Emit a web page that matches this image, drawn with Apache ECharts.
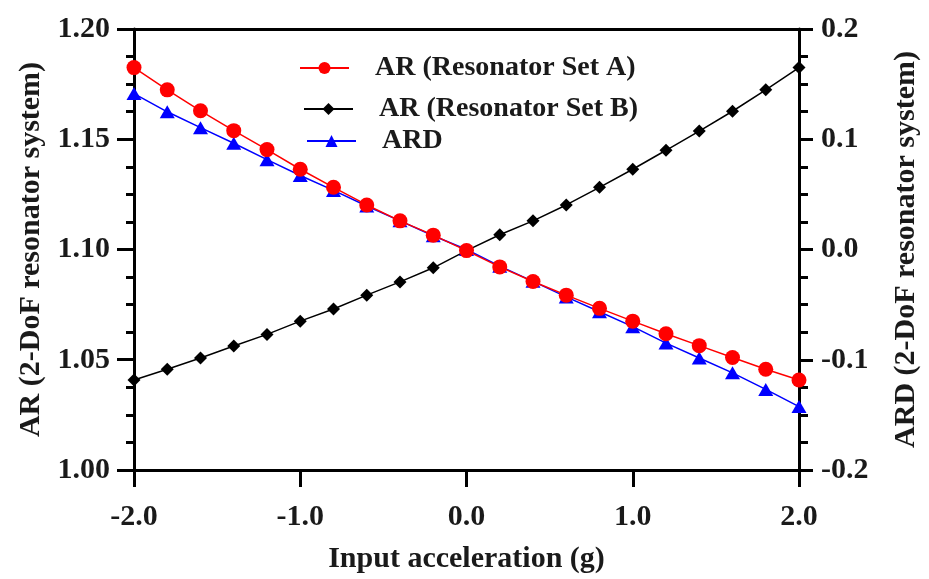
<!DOCTYPE html>
<html>
<head>
<meta charset="utf-8">
<script src="https://cdn.jsdelivr.net/npm/echarts@6/dist/echarts.min.js"></script>
<style>
html,body{margin:0;padding:0;background:#fff;}
#chart{width:929px;height:579px;}
</style>
</head>
<body>
<div id="chart"></div>
<script>
const xValues = [-2.0,-1.8,-1.6,-1.4,-1.2,-1.0,-0.8,-0.6,-0.4,-0.2,0.0,0.2,0.4,0.6,0.8,1.0,1.2,1.4,1.6,1.8,2.0];
const arSetA = [1.1825,1.1724,1.1629,1.1539,1.1453,1.1364,1.1282,1.1202,1.1130,1.1065,1.0995,1.0921,1.0855,1.0793,1.0733,1.0675,1.0618,1.0564,1.0510,1.0457,1.0408];
const arSetB = [1.0408,1.0457,1.0508,1.0562,1.0615,1.0675,1.0730,1.0793,1.0853,1.0917,1.0995,1.1067,1.1130,1.1202,1.1282,1.1364,1.1450,1.1537,1.1627,1.1724,1.1825];
const ard    = [0.1414,0.1249,0.1105,0.0964,0.0815,0.0671,0.0536,0.0395,0.0260,0.0125,0.0,-0.0151,-0.0289,-0.0430,-0.0565,-0.0700,-0.0849,-0.0984,-0.1119,-0.1269,-0.1425];
const leftTicks = ['1.00','1.05','1.10','1.15','1.20'];
const rightTicks = ['-0.2','-0.1','0.0','0.1','0.2'];
const xTicks = ['-2.0','-1.0','0.0','1.0','2.0'];

const FONT = 'Liberation Serif';
const TXT = '#1a1a1a';
const pairs = arr => xValues.map((x, i) => [x, arr[i]]);

const chart = echarts.init(document.getElementById('chart'));
const mkLine = () => ({show: true, onZero: false, lineStyle: {color: '#000', width: 3}});
const noLine = () => ({show: false, onZero: false});
const mkTick = len => ({show: true, length: len, lineStyle: {color: '#000', width: 3}});
const mkMinor = len => ({show: true, splitNumber: 4, length: len, lineStyle: {color: '#000', width: 3}});
const lab = () => ({fontFamily: FONT, fontWeight: 'bold', fontSize: 30, color: TXT});
const nameStyle = () => ({fontFamily: FONT, fontWeight: 'bold', fontSize: 30, color: TXT});

const legendBase = () => ({
  orient: 'vertical', itemWidth: 49, itemHeight: 15, padding: 0,
  textStyle: {fontFamily: FONT, fontWeight: 'bold', fontSize: 28, color: TXT, padding: [0, 0, 0, 21]},
  selectedMode: false
});

chart.setOption({
  backgroundColor: '#fff',
  animation: false,
  grid: {left: 134, right: 129, top: 29, bottom: 105},
  legend: [
    Object.assign(legendBase(), {data: ['AR (Resonator Set A)'], left: 299, top: 54}),
    Object.assign(legendBase(), {data: ['AR (Resonator Set B)'], left: 303, top: 95}),
    Object.assign(legendBase(), {data: ['ARD'], left: 306, top: 127})
  ],
  xAxis: [{
    type: 'value', min: -2, max: 2, interval: 1, position: 'bottom',
    name: 'Input acceleration (g)', nameLocation: 'middle', nameGap: 74,
    nameTextStyle: nameStyle(),
    axisLine: mkLine(),
    axisTick: mkTick(17),
    axisLabel: Object.assign(lab(), {margin: 32, formatter: v => xTicks[Math.round(v + 2)]}),
    splitLine: {show: false}
  }, {
    type: 'value', min: -2, max: 2, interval: 1, position: 'top',
    axisLine: mkLine(), axisTick: {show: false}, axisLabel: {show: false}, splitLine: {show: false}
  }, {
    type: 'value', min: -2, max: 2, interval: 1, position: 'bottom',
    axisLine: noLine(), axisTick: mkTick(17), axisLabel: {show: false}, splitLine: {show: false}
  }],
  yAxis: [{
    type: 'value', min: 1.0, max: 1.2, interval: 0.05, position: 'left',
    name: 'AR (2-DoF resonator system)', nameLocation: 'middle', nameGap: 81,
    nameTextStyle: nameStyle(),
    axisLine: mkLine(),
    axisTick: mkTick(17),
    minorTick: mkMinor(8),
    axisLabel: Object.assign(lab(), {margin: 24, formatter: v => leftTicks[Math.round((v - 1.0) / 0.05)]}),
    splitLine: {show: false}
  }, {
    type: 'value', min: -0.2, max: 0.2, interval: 0.1, position: 'right',
    name: 'ARD (2-DoF resonator system)', nameLocation: 'middle', nameGap: 92,
    nameTextStyle: nameStyle(),
    axisLine: mkLine(),
    axisTick: mkTick(14),
    minorTick: mkMinor(9),
    axisLabel: Object.assign(lab(), {margin: 22, formatter: v => rightTicks[Math.round((v + 0.2) / 0.1)]}),
    splitLine: {show: false}
  }, {
    type: 'value', min: 1.0, max: 1.2, interval: 0.05, position: 'left', offset: 0,
    axisLine: noLine(), axisTick: mkTick(17), minorTick: mkMinor(8),
    axisLabel: {show: false}, splitLine: {show: false}
  }, {
    type: 'value', min: -0.2, max: 0.2, interval: 0.1, position: 'right', offset: 0,
    axisLine: noLine(), axisTick: mkTick(14), minorTick: mkMinor(9),
    axisLabel: {show: false}, splitLine: {show: false}
  }],
  series: [{
    name: 'AR (Resonator Set B)', type: 'line', xAxisIndex: 0, yAxisIndex: 0, data: pairs(arSetB),
    symbol: 'diamond', symbolSize: 13, z: 2,
    lineStyle: {color: '#000', width: 1.5}, itemStyle: {color: '#000'}
  }, {
    name: 'ARD', type: 'line', xAxisIndex: 0, yAxisIndex: 1, data: pairs(ard),
    symbol: 'triangle', symbolSize: [15, 13], z: 3,
    lineStyle: {color: '#0000ff', width: 1.5}, itemStyle: {color: '#0000ff'}
  }, {
    name: 'AR (Resonator Set A)', type: 'line', xAxisIndex: 0, yAxisIndex: 0, data: pairs(arSetA),
    symbol: 'circle', symbolSize: 15, z: 4,
    lineStyle: {color: '#ff0000', width: 1.5}, itemStyle: {color: '#ff0000'}
  }]
});
</script>
</body>
</html>
